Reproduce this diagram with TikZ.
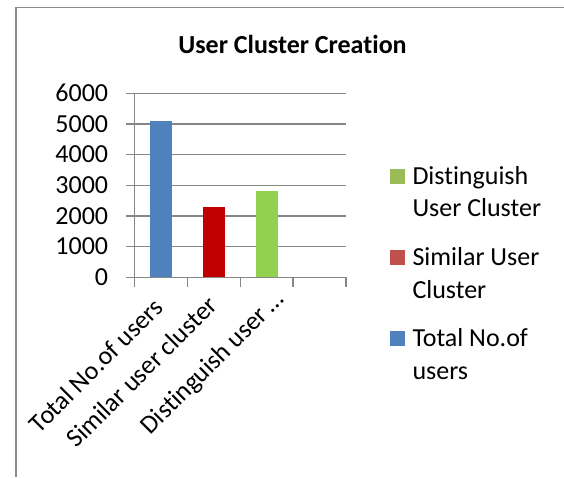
\documentclass[tikz,border=0pt]{standalone}
\usepackage{fontspec}
\setmainfont{Carlito}[Ligatures=CommonOff]
\definecolor{framegray}{HTML}{8C8C8C}
\definecolor{gridgray}{HTML}{868686}
\definecolor{barblue}{HTML}{4F81BD}
\definecolor{barred}{HTML}{C00000}
\definecolor{bargreen}{HTML}{92D050}
\definecolor{legred}{HTML}{C0504D}
\definecolor{leggreen}{HTML}{9BBB59}
\begin{document}
\begin{tikzpicture}[x=1pt,y=-1pt,
  frameline/.style={draw=framegray,line width=1.3pt},
  gridline/.style={draw=gridgray,line width=1.2pt},
  axisnum/.style={anchor=east,inner sep=0pt,font=\fontsize{26}{30}\selectfont},
  catlabel/.style={rotate=45,anchor=north east,inner sep=0pt,font=\fontsize{26}{30}\selectfont},
  legtext/.style={anchor=base west,inner sep=0pt,font=\fontsize{26}{30}\selectfont},
  legkey/.style={minimum size=15pt,inner sep=0pt,anchor=north west}]
\useasboundingbox (0,0) rectangle (564,477);
% chart frame
\draw[frameline] (564,7.5) -- (16,7.5) -- (16,477);
% title
\node[anchor=base,inner sep=0pt,font=\bfseries\fontsize{26}{30}\selectfont] (title) at (292.5,53.3) {User Cluster Creation};
% horizontal gridlines, 0..6000 step 1000
\foreach \k/\yy in {0/277.3,1/246.6,2/216.0,3/185.3,4/154.6,5/124.0,6/93.3}{
  \draw[gridline] (126,\yy) -- (346,\yy);
}
% value axis
\draw[gridline] (134.3,93.3) -- (134.3,277.3);
% category ticks
\foreach \xx in {134.3,187.2,240.1,293.0,346.0}{
  \draw[gridline] (\xx,277.3) -- (\xx,286.5);
}
% value labels
\node[axisnum] (v0) at (108.3,277.3) {0};
\node[axisnum] (v1) at (108.3,246.6) {1000};
\node[axisnum] (v2) at (108.3,216.0) {2000};
\node[axisnum] (v3) at (108.3,185.3) {3000};
\node[axisnum] (v4) at (108.3,154.6) {4000};
\node[axisnum] (v5) at (108.3,124.0) {5000};
\node[axisnum] (v6) at (108.3,93.3) {6000};
% bars
\fill[barblue]  (150,121) rectangle (172,277.3);
\fill[barred]   (202.7,207) rectangle (225,277.3);
\fill[bargreen] (256,191) rectangle (278,277.3);
% category labels
\node[catlabel] (c1) at (152,296) {Total No.of users};
\node[catlabel] (c2) at (206,294) {Similar user cluster};
\node[catlabel] (c3) at (272,288) {Distinguish user\thinspace…};
% legend
\node[legkey,fill=leggreen] (k1) at (390,168.3) {};
\node[legtext] (l1a) at (412.3,184.3) {Distinguish};
\node[legtext] (l1b) at (412.3,216.7) {User Cluster};
\node[legkey,fill=legred] (k2) at (390,250) {};
\node[legtext] (l2a) at (412.3,265.5) {Similar User};
\node[legtext] (l2b) at (412.3,298.3) {Cluster};
\node[legkey,fill=barblue] (k3) at (390,331) {};
\node[legtext] (l3a) at (412.3,346.5) {Total No.of};
\node[legtext] (l3b) at (412.3,379.3) {users};
\end{tikzpicture}
\end{document}
